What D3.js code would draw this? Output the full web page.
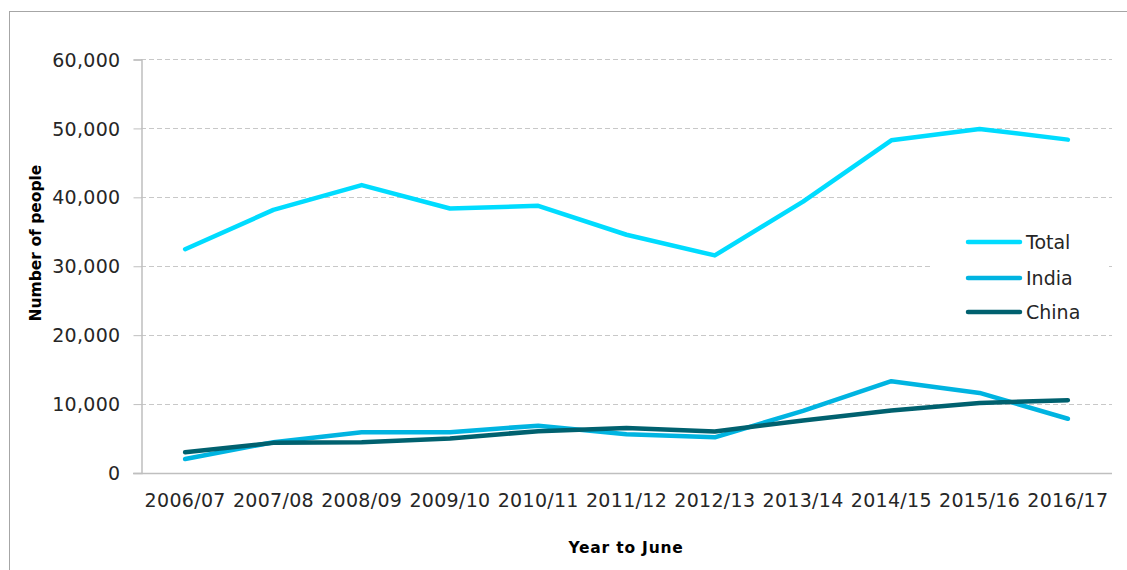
<!DOCTYPE html>
<html>
<head>
<meta charset="utf-8">
<script src="https://cdn.jsdelivr.net/npm/d3@7"></script>
<style>
  body { margin: 0; background: #fff; }
  svg text { font-family: "DejaVu Sans", sans-serif; }
  .tick text { fill: #262626; font-size: 19px; letter-spacing: 0.3px; }
  .axisTitle { font-weight: bold; fill: #000; font-size: 15.5px; }
  .legendText { fill: #262626; font-size: 19px; }
</style>
</head>
<body>
<div id="chart"></div>
<script>
// DATA
var years = ["2006/07", "2007/08", "2008/09", "2009/10", "2010/11", "2011/12",
             "2012/13", "2013/14", "2014/15", "2015/16", "2016/17"];
var totalValues = [32400, 38100, 41700, 38300, 38700, 34500, 31500, 39300, 48200, 49850, 48300];
var indiaValues = [1950, 4400, 5850, 5850, 6800, 5550, 5100, 8950, 13250, 11550, 7800];
var chinaValues = [2950, 4300, 4400, 4950, 6000, 6450, 5950, 7550, 9000, 10100, 10500];
var yTicks = [0, 10000, 20000, 30000, 40000, 50000, 60000];

var seriesNames = ["Total", "India", "China"];
var seriesColors = ["#00dcff", "#00b4e1", "#00616f"];
var series = [totalValues, indiaValues, chinaValues];

// SET UP
var width = 1127, height = 570;
var margin = {top: 59, right: 15, bottom: 98, left: 141};

var svg = d3.select("#chart").append("svg")
    .attr("width", width)
    .attr("height", height);

// outer border of the chart area
svg.append("rect")
    .attr("x", 9.5)
    .attr("y", 11.5)
    .attr("width", 1130)
    .attr("height", 600)
    .attr("fill", "none")
    .attr("stroke", "#a6a6a6")
    .attr("stroke-width", 1);

var xScale = d3.scaleBand()
    .domain(years)
    .range([margin.left, width - margin.right]);

var yScale = d3.scaleLinear()
    .domain([0, 60000])
    .range([height - margin.bottom + 0.5, margin.top]);

// Gridlines
svg.append("g")
    .selectAll("line")
    .data(yTicks.slice(1))
    .join("line")
    .attr("x1", margin.left)
    .attr("x2", width - margin.right)
    .attr("y1", (d) => Math.round(yScale(d)) + 0.5)
    .attr("y2", (d) => Math.round(yScale(d)) + 0.5)
    .attr("stroke", "#c8c8c8")
    .attr("stroke-dasharray", "5,3");

// Y axis
var yAxis = svg.append("g")
    .attr("transform", "translate(" + (margin.left + 0.5) + ",0.5)")
    .call(d3.axisLeft(yScale).tickValues(yTicks).tickSize(8).tickPadding(13)
        .tickFormat(d3.format(",")));
yAxis.attr("font-family", null).attr("font-size", null);
yAxis.select(".domain").attr("stroke", "#bfbfbf").attr("stroke-width", 1.5);
yAxis.selectAll(".tick line").attr("stroke", "#bfbfbf");
yAxis.selectAll(".tick text").attr("dy", "0.35em");

// X axis
var xAxis = svg.append("g")
    .attr("transform", "translate(0," + (Math.round(yScale(0)) + 0.5) + ")")
    .call(d3.axisBottom(xScale).tickSize(0).tickPadding(20));
xAxis.attr("font-family", null).attr("font-size", null);
xAxis.select(".domain").attr("stroke", "#bfbfbf").attr("stroke-width", 1.5)
    .attr("d", "M" + (margin.left - 8) + ",0H" + (width - margin.right));

// Lines
var line = d3.line()
    .x((d, i) => xScale(years[i]) + xScale.bandwidth() / 2)
    .y((d) => yScale(d));

svg.append("g")
    .selectAll("path")
    .data([0, 1, 2])
    .join("path")
    .attr("d", (k) => line(series[k]))
    .attr("fill", "none")
    .attr("stroke", (k) => seriesColors[k])
    .attr("stroke-width", 4.5)
    .attr("stroke-linejoin", "round")
    .attr("stroke-linecap", "round");

// Legend
var legend = svg.append("g");
legend.append("rect")
    .attr("x", 932)
    .attr("y", 225)
    .attr("width", 176)
    .attr("height", 105)
    .attr("fill", "#fff");

var legendY = [242, 278, 312];
var items = legend.selectAll("g")
    .data(seriesNames)
    .join("g")
    .attr("transform", (d, i) => "translate(0," + legendY[i] + ")");
items.append("line")
    .attr("x1", 968)
    .attr("x2", 1020)
    .attr("stroke", (d, i) => seriesColors[i])
    .attr("stroke-width", 4.5)
    .attr("stroke-linecap", "round");
items.append("text")
    .attr("class", "legendText")
    .attr("x", 1026)
    .attr("dy", "0.35em")
    .text((d) => d);

// Axis titles
svg.append("text")
    .attr("class", "axisTitle")
    .attr("transform", "rotate(-90)")
    .attr("x", -243)
    .attr("y", 41)
    .style("text-anchor", "middle")
    .text("Number of people");

svg.append("text")
    .attr("class", "axisTitle")
    .attr("x", 626)
    .attr("y", 553)
    .style("text-anchor", "middle")
    .style("letter-spacing", "0.8px")
    .text("Year to June");
</script>
</body>
</html>
